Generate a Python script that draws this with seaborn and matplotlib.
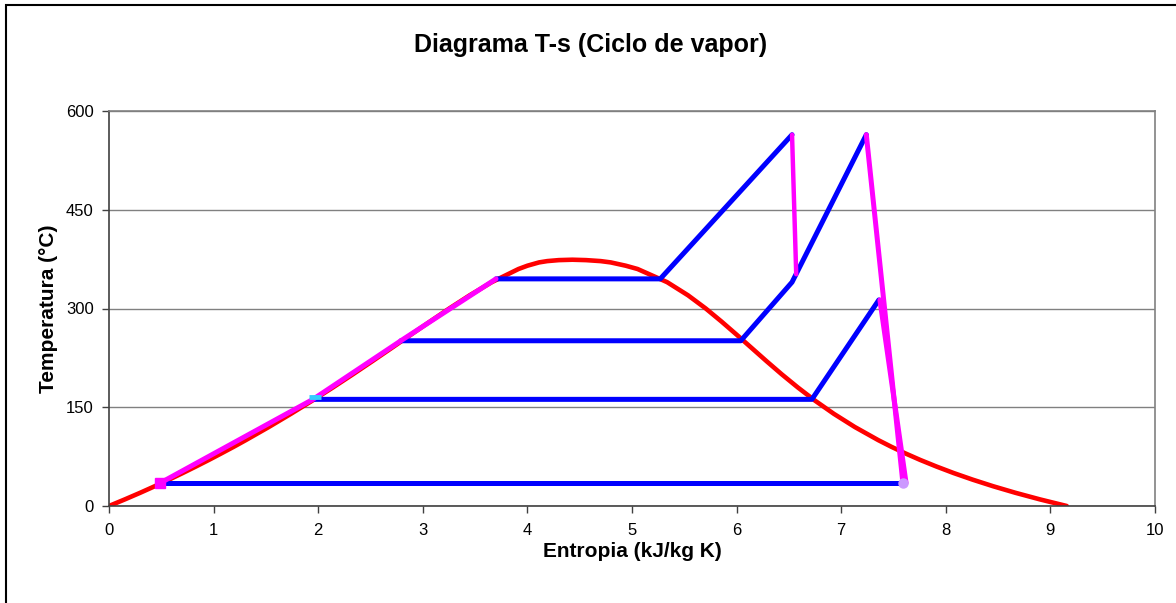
import matplotlib
matplotlib.use("Agg")
import matplotlib.pyplot as plt
from matplotlib.patches import Rectangle
import numpy as np
import pandas as pd
import seaborn as sns

# saturation dome (water), T in C, s in kJ/kg K
T_sat = [0.01, 10, 20, 30, 40, 50, 60, 70, 80, 90, 100, 120, 140, 160, 180,
         200, 220, 240, 260, 280, 300, 320, 340, 360, 365, 370, 372, 373.5, 374.1]
s_liq = [0.0, 0.151, 0.297, 0.437, 0.573, 0.704, 0.831, 0.955, 1.075, 1.193,
         1.307, 1.528, 1.739, 1.943, 2.140, 2.331, 2.518, 2.702, 2.884, 3.067,
         3.253, 3.448, 3.659, 3.915, 4.000, 4.111, 4.190, 4.300, 4.430]
s_vap = [9.156, 8.901, 8.667, 8.453, 8.257, 8.076, 7.910, 7.755, 7.612, 7.479,
         7.355, 7.130, 6.930, 6.750, 6.586, 6.432, 6.286, 6.144, 6.002, 5.857,
         5.705, 5.536, 5.336, 5.053, 4.940, 4.797, 4.700, 4.560, 4.430]

# isobars of the cycle (blue)
s_p1 = [0.49, 7.59];             T_p1 = [35, 35]
s_p2 = [1.95, 6.72, 7.36];       T_p2 = [162, 162, 313]
s_p3 = [2.79, 6.04, 6.53, 7.24]; T_p3 = [251, 251, 340, 564]
s_p4 = [3.70, 5.27, 6.53];       T_p4 = [345, 345, 564]

# pumps / heaters and turbines (magenta)
s_heat = [0.49, 1.95, 2.79, 3.70]; T_heat = [35, 162, 251, 345]
s_hp = [6.53, 6.57];            T_hp = [564, 352]
s_lp = [7.24, 7.59];            T_lp = [564, 35]
s_lp2 = [7.37, 7.62];           T_lp2 = [313, 35]

sns.set_style("white")
plt.rcParams["font.family"] = ["Liberation Sans", "DejaVu Sans"]
plt.rcParams["text.color"] = "black"
plt.rcParams["axes.labelcolor"] = "black"
plt.rcParams["xtick.color"] = "black"
plt.rcParams["ytick.color"] = "black"

fig = plt.figure(figsize=(11.76, 6.03), dpi=100)
ax = fig.add_axes([109 / 1176, 97 / 603, 1046 / 1176, 395 / 603])

# outer chart frame (like the spreadsheet chart area)
fig.patches.append(Rectangle((6 / 1176, -0.1), 1.2, 1 - 5 / 603 + 0.1,
                             transform=fig.transFigure, fill=False,
                             edgecolor="black", linewidth=1.5))

dome = pd.DataFrame({"s": s_liq + s_vap[::-1], "T": T_sat + T_sat[::-1]})
sns.lineplot(data=dome, x="s", y="T", sort=False, estimator=None, ax=ax,
             color="#ff0000", linewidth=3.3)

blue = "#0000ff"
for ss, tt in [(s_p1, T_p1), (s_p2, T_p2), (s_p3, T_p3), (s_p4, T_p4)]:
    sns.lineplot(x=ss, y=tt, sort=False, estimator=None, ax=ax,
                 color=blue, linewidth=3.6, solid_capstyle="round")

pink = "#ff00ff"
for ss, tt, lw in [(s_heat, T_heat, 3.6), (s_hp, T_hp, 3.2),
                   (s_lp, T_lp, 3.6), (s_lp2, T_lp2, 3.6)]:
    sns.lineplot(x=ss, y=tt, sort=False, estimator=None, ax=ax,
                 color=pink, linewidth=lw, solid_capstyle="round")

# point markers
ax.plot([s_heat[0]], [T_heat[0]], marker="s", color=pink, markersize=6.5,
        linestyle="none", zorder=5)
ax.plot([1.97], [165], marker="_", color="#33ccff", markersize=8,
        markeredgewidth=3.5, linestyle="none", zorder=5)
ax.plot([s_p1[1]], [T_p1[1]], marker="o", color="#cc99ff", markersize=6.5,
        linestyle="none", zorder=5)

ax.set_xlim(0, 10)
ax.set_ylim(0, 600)
ax.set_xticks(np.arange(0, 11, 1))
ax.set_yticks(np.arange(0, 601, 150))
ax.yaxis.grid(True, color="#808080", linewidth=1.0)
ax.set_axisbelow(True)
ax.tick_params(axis="both", direction="out", length=5, width=1,
               color="#404040", labelsize=12, pad=6, left=True, bottom=True)
ax.tick_params(axis="x", pad=7)
for side in ["top", "right"]:
    ax.spines[side].set_color("#808080")
    ax.spines[side].set_linewidth(1.2)
for side in ["left", "bottom"]:
    ax.spines[side].set_color("#404040")
    ax.spines[side].set_linewidth(1.2)

ax.set_xlabel("Entropia (kJ/kg K)", fontsize=15, fontweight="bold", labelpad=3)
ax.set_ylabel("Temperatura (\u00b0C)", fontsize=15, fontweight="bold", labelpad=6)
fig.text(0.502, 0.925, "Diagrama T-s (Ciclo de vapor)", ha="center", va="center",
         fontsize=18, fontweight="bold")

fig.savefig("out.png", dpi=100)
